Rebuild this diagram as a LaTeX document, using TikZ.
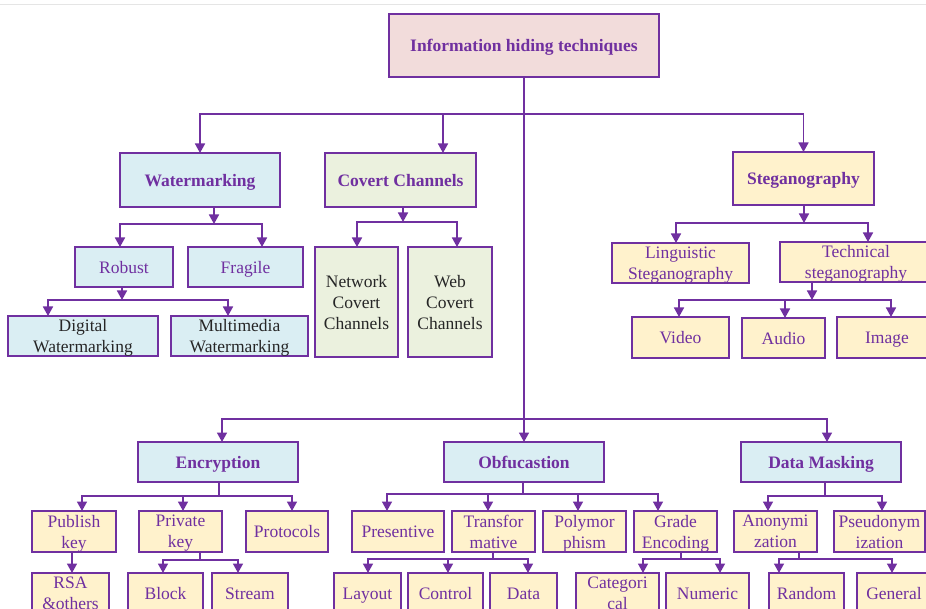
\documentclass[tikz,border=0pt]{standalone}
\usepackage{fontspec}
\setmainfont{Liberation Serif}
\usetikzlibrary{arrows.meta}
\definecolor{pur}{HTML}{7030A0}
\definecolor{pinkf}{HTML}{F2DCDB}
\definecolor{bluef}{HTML}{DAEEF3}
\definecolor{greenf}{HTML}{EBF1DE}
\definecolor{yelf}{HTML}{FFF2CC}
\definecolor{dark}{HTML}{262626}
\tikzset{
  box/.style={draw=pur, line width=1.6pt, inner sep=0pt, outer sep=0pt, align=center,
    text=pur, text depth=0pt, font=\fontsize{17.5}{21}\selectfont},
  head/.style={box, font=\fontsize{17.5}{21}\selectfont\bfseries},
  pinkbox/.style={head, fill=pinkf},
  bluehead/.style={head, fill=bluef},
  greenhead/.style={head, fill=greenf},
  yelhead/.style={head, fill=yelf},
  bluebox/.style={box, fill=bluef},
  blueblack/.style={box, fill=bluef, text=dark},
  greenblack/.style={box, fill=greenf, text=dark},
  yelbox/.style={box, fill=yelf},
  ln/.style={draw=pur, line width=1.6pt},
  arr/.style={ln, -{Triangle[width=10pt,length=9.5pt]}},
}
\newcommand{\bx}[7]{\node[#6, minimum width={(#4-#2)*1pt}, minimum height={(#5-#3)*1pt}] (#1) at ({(#2+#4)/2},{(#3+#5)/2}) {#7};}
\begin{document}
\begin{tikzpicture}[x=1pt,y=-1pt]
\useasboundingbox (0,0) rectangle (926,609);
\clip (0,0) rectangle (926,609);
\fill[white] (0,0) rectangle (926,609);
\draw[black!10, line width=1pt] (0,5) -- (926,5);
% boxes
\bx{root}{389}{14}{659}{77}{pinkbox}{Information hiding techniques}
\bx{wm}{120}{153}{280}{207}{bluehead}{Watermarking}
\bx{cc}{325}{153}{476}{207}{greenhead}{Covert Channels}
\bx{steg}{733}{152}{874}{205}{yelhead}{Steganography}
\bx{rob}{75}{247}{173}{287}{bluebox}{Robust}
\bx{fra}{188}{247}{303}{287}{bluebox}{Fragile}
\bx{dig}{8}{316}{158}{356}{blueblack}{Digital\\Watermarking}
\bx{mul}{171}{316}{308}{356}{blueblack}{Multimedia\\Watermarking}
\bx{net}{315}{247}{398}{357}{greenblack}{Network\\Covert\\Channels}
\bx{web}{408}{247}{492}{357}{greenblack}{Web\\Covert\\Channels}
\bx{ling}{612}{243}{749}{283}{yelbox}{Linguistic\\Steganography}
\bx{tech}{780}{242}{932}{282}{yelbox}{Technical\\steganography}
\bx{vid}{632}{317}{729}{358}{yelbox}{Video}
\bx{aud}{742}{318}{825}{358}{yelbox}{Audio}
\bx{img}{837}{317}{937}{358}{yelbox}{Image}
\bx{enc}{138}{442}{298}{482}{bluehead}{Encryption}
\bx{obf}{444}{442}{604}{482}{bluehead}{Obfucastion}
\bx{dm}{741}{442}{901}{482}{bluehead}{Data Masking}
\bx{pub}{32}{511}{116}{552}{yelbox}{Publish\\key}
\bx{pri}{139}{511}{222}{552}{yelbox}{Private\\key}
\bx{pro}{246}{511}{328}{552}{yelbox}{Protocols}
\bx{rsa}{32}{573}{109}{614}{yelbox}{RSA\\\&others}
\bx{blk}{128}{573}{203}{614}{yelbox}{Block}
\bx{str}{212}{573}{288}{614}{yelbox}{Stream}
\bx{pre}{352}{511}{444}{552}{yelbox}{Presentive}
\bx{tra}{452}{511}{535}{552}{yelbox}{Transfor\\mative}
\bx{pol}{543}{511}{626}{552}{yelbox}{Polymor\\phism}
\bx{gra}{634}{511}{717}{552}{yelbox}{Grade\\Encoding}
\bx{lay}{334}{573}{401}{614}{yelbox}{Layout}
\bx{con}{408}{573}{483}{614}{yelbox}{Control}
\bx{dat}{490}{573}{557}{614}{yelbox}{Data}
\bx{cat}{576}{573}{659}{614}{yelbox}{Categori\\cal}
\bx{num}{666}{573}{749}{614}{yelbox}{Numeric}
\bx{ano}{734}{511}{817}{552}{yelbox}{Anonymi\\zation}
\bx{pse}{834}{511}{925}{552}{yelbox}{Pseudonym\\ization}
\bx{ran}{769}{573}{844}{614}{yelbox}{Random}
\bx{gen}{857}{573}{931}{614}{yelbox}{General}
% bus points
\coordinate (t1) at (524,114);
\coordinate (t2) at (524,419);
\coordinate (wb) at (214,224);
\coordinate (rb) at (122,300);
\coordinate (cb) at (403,222);
\coordinate (sb) at (804,223);
\coordinate (tb) at (812,300);
\coordinate (eb) at (219,496);
\coordinate (pb) at (200,560);
\coordinate (ob) at (523,494);
\coordinate (trb) at (493,559);
\coordinate (gb) at (681,559);
\coordinate (db) at (825,496);
\coordinate (ab) at (799,559);
% root
\draw[arr] (root.south) -- (obf.north);
\draw[arr] (t1) -| (wm.north);
\draw[arr] (t1) -| ([xshift=42.5pt]cc.north);
\draw[arr] (t1) -| (steg.north);
\draw[arr] (t2) -| ([xshift=4pt]enc.north);
\draw[arr] (t2) -| ([xshift=6pt]dm.north);
% watermarking
\draw[arr] ([xshift=14pt]wm.south) -- (wb);
\draw[arr] (wb) -| ([xshift=-4pt]rob.north);
\draw[arr] (wb) -| ([xshift=16.5pt]fra.north);
\draw[arr] ([xshift=-2pt]rob.south) -- (rb);
\draw[arr] (rb) -| ([xshift=-35pt]dig.north);
\draw[arr] (rb) -| ([xshift=-11.5pt]mul.north);
% covert channels
\draw[arr] ([xshift=2.5pt]cc.south) -- (cb);
\draw[arr] (cb) -| ([xshift=0.5pt]net.north);
\draw[arr] (cb) -| ([xshift=7pt]web.north);
% steganography
\draw[arr] ([xshift=0.5pt]steg.south) -- (sb);
\draw[arr] (sb) -| ([xshift=-4.5pt]ling.north);
\draw[arr] (sb) -| ([xshift=12pt]tech.north);
\draw[arr] ([xshift=-44pt]tech.south) -- (tb);
\draw[arr] (tb) -| ([xshift=-1.5pt]vid.north);
\draw[arr] (tb) -| ([xshift=1.5pt]aud.north);
\draw[arr] (tb) -| ([xshift=4pt]img.north);
% encryption
\draw[ln] ([xshift=1pt]enc.south) -- (eb);
\draw[arr] (eb) -| ([xshift=8pt]pub.north);
\draw[arr] (eb) -| ([xshift=2.5pt]pri.north);
\draw[arr] (eb) -| ([xshift=5pt]pro.north);
\draw[arr] ([xshift=-2pt]pub.south) -- ([xshift=1.5pt]rsa.north);
\draw[ln] ([xshift=19.5pt]pri.south) -- (pb);
\draw[arr] (pb) -| ([xshift=-2.5pt]blk.north);
\draw[arr] (pb) -| ([xshift=-12pt]str.north);
% obfuscation
\draw[ln] ([xshift=-1pt]obf.south) -- (ob);
\draw[arr] (ob) -| ([xshift=-11pt]pre.north);
\draw[arr] (ob) -| ([xshift=-5.5pt]tra.north);
\draw[arr] (ob) -| ([xshift=-6.5pt]pol.north);
\draw[arr] (ob) -| ([xshift=-17.5pt]gra.north);
\draw[ln] ([xshift=-0.5pt]tra.south) -- (trb);
\draw[arr] (trb) -| ([xshift=0.5pt]lay.north);
\draw[arr] (trb) -| ([xshift=2.5pt]con.north);
\draw[arr] (trb) -| ([xshift=4.5pt]dat.north);
\draw[ln] ([xshift=5.5pt]gra.south) -- (gb);
\draw[arr] (gb) -| ([xshift=25.5pt]cat.north);
\draw[arr] (gb) -| ([xshift=12.5pt]num.north);
% data masking
\draw[ln] ([xshift=4pt]dm.south) -- (db);
\draw[arr] (db) -| ([xshift=-7.5pt]ano.north);
\draw[arr] (db) -| ([xshift=2.5pt]pse.north);
\draw[ln] ([xshift=23.5pt]ano.south) -- (ab);
\draw[arr] (ab) -| ([xshift=-27.5pt]ran.north);
\draw[arr] (ab) -| ([xshift=-2pt]gen.north);
\end{tikzpicture}
\end{document}
